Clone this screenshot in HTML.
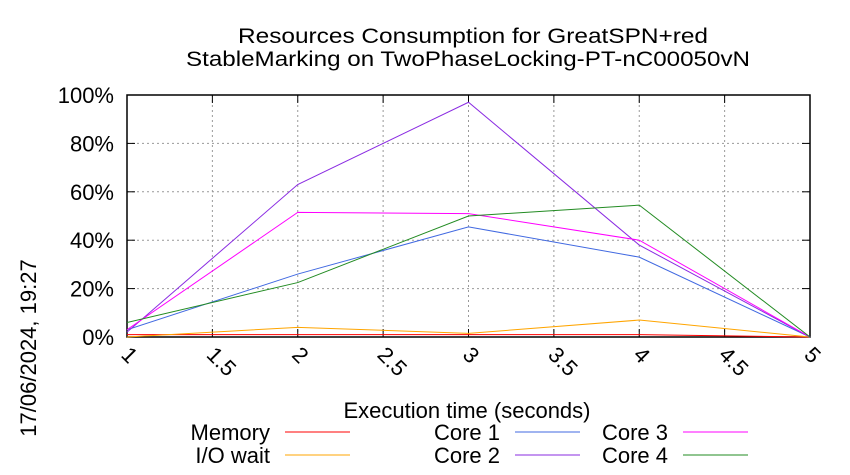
<!DOCTYPE html>
<html><head><meta charset="utf-8"><style>body{margin:0;background:#fff}svg{display:block;font-family:"Liberation Sans",sans-serif}</style></head>
<body>
<svg id="c" width="850" height="475"></svg>
<script>
const xs=[1,2,3,4,5];
const memory=[1,1,1,1,0];
const iowait=[0,4,1.5,7,0];
const core1=[3,26,45.5,33,0];
const core2=[2,63,97,38,0];
const core3=[3,51.5,51,40,0];
const core4=[6,22.5,50,54.5,0];
const xticks=["1","1.5","2","2.5","3","3.5","4","4.5","5"];
const yticks=["0%","20%","40%","60%","80%","100%"];
const L=127,R=810,T=95,B=337;
const X=v=>L+(v-1)/4*(R-L), Y=v=>B-v/100*(B-T);
const s=document.getElementById('c'),NS='http://www.w3.org/2000/svg';
function el(t,a,txt){const e=document.createElementNS(NS,t);for(const k in a)e.setAttribute(k,a[k]);if(txt!=null)e.textContent=txt;s.appendChild(e);return e;}
let e;
e=el('text',{x:473,y:43,'text-anchor':'middle','font-size':21,textLength:470,lengthAdjust:'spacingAndGlyphs'},'Resources Consumption for GreatSPN+red');


e=el('text',{x:468,y:66,'text-anchor':'middle','font-size':21,textLength:564,lengthAdjust:'spacingAndGlyphs'},'StableMarking on TwoPhaseLocking-PT-nC00050vN');


yticks.forEach((t,i)=>{const y=Y(i*20);
 if(i>0&&i<5){e=el('line',{x1:L,x2:R,y1:y,y2:y,stroke:'#999','stroke-dasharray':'2,3','stroke-width':1});}
 e=el('line',{x1:L,x2:L+8,y1:y,y2:y,stroke:'#000'});
 e=el('line',{x1:R-8,x2:R,y1:y,y2:y,stroke:'#000'});
 e=el('text',{x:L-13,y:y+8,'text-anchor':'end','font-size':22},t);
});
xticks.forEach((t,i)=>{const x=X(+t);
 if(i>0&&i<8){e=el('line',{x1:x,x2:x,y1:T,y2:B,stroke:'#999','stroke-dasharray':'2,3'});}
 e=el('line',{x1:x,x2:x,y1:B,y2:B-8,stroke:'#000'});
 e=el('line',{x1:x,x2:x,y1:T,y2:T+8,stroke:'#000'});
 e=el('text',{x:x-7,y:B+19,'font-size':22,transform:`rotate(45 ${x-7} ${B+19})`},t);
});
e=el('rect',{x:L,y:T,width:R-L,height:B-T,fill:'none',stroke:'#000','stroke-width':1.5});


e=el('text',{x:467,y:418,'text-anchor':'middle','font-size':22},'Execution time (seconds)');


e=el('text',{x:0,y:0,'text-anchor':'middle','font-size':22,transform:'translate(36,348) rotate(-90)'},'17/06/2024, 19:27');


const series=[["Memory",memory,'#ff0000',270,432],["I/O wait",iowait,'#ffa500',270,455],["Core 1",core1,'#4169e1',500,432],["Core 2",core2,'#8a2be2',500,455],["Core 3",core3,'#ff00ff',668,432],["Core 4",core4,'#228b22',668,455]];
series.forEach(([n,d,c,lx,ly])=>{
 e=el('polyline',{points:d.map((v,i)=>X(xs[i])+','+Y(v)).join(' '),fill:'none',stroke:c,'stroke-width':1});
 
 
 e=el('text',{x:lx,y:ly+8,'text-anchor':'end','font-size':22},n);
 
 
 e=el('line',{x1:lx+15,x2:lx+80,y1:ly,y2:ly,stroke:c});
 
 
});
</script>
</body></html>
